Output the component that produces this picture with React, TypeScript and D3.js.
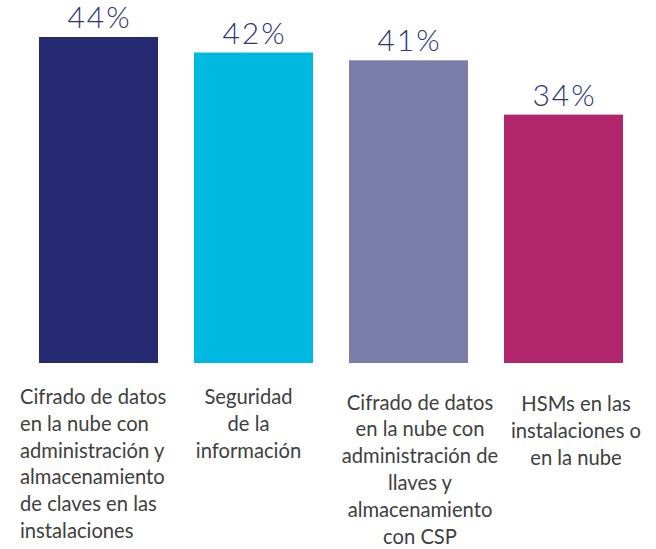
import React from "react";
import * as d3 from "d3";

const categories = [
  "Cifrado de datos en la nube con administración y almacenamiento de claves en las instalaciones",
  "Seguridad de la información",
  "Cifrado de datos en la nube con administración de llaves y almacenamiento con CSP",
  "HSMs en las instalaciones o en la nube",
];
const categoryLines = [
  ["Cifrado de datos", "en la nube con", "administración y", "almacenamiento", "de claves en las", "instalaciones"],
  ["Seguridad", "de la", "información"],
  ["Cifrado de datos", "en la nube con", "administración de", "llaves y", "almacenamiento", "con CSP"],
  ["HSMs en las", "instalaciones o", "en la nube"],
];
const values = [44, 42, 41, 34];
const valueLabels = ["44%", "42%", "41%", "34%"];
const colors = ["#252a72", "#00b9e0", "#7b7ea8", "#b1256d"];

const W = 656;
const H = 549;

export default function App() {
  const x = d3
    .scaleBand<string>()
    .domain(categories)
    .range([21, 641])
    .paddingInner(0.2323)
    .paddingOuter(0.11615);
  const y = d3.scaleLinear().domain([2, 44]).range([363, 37]);

  // label layout: anchor, dx from band center, first baseline
  const labelLayout = [
    { anchor: "start", dx: -78.5, y0: 404 },
    { anchor: "middle", dx: -5, y0: 404 },
    { anchor: "middle", dx: 11.5, y0: 409.5 },
    { anchor: "middle", dx: 12.5, y0: 411 },
  ];
  const lineH = 26.8;

  return (
    <svg
      width={W}
      height={H}
      style={{ position: "absolute", left: 0, top: 0, background: "#fff" }}
    >
      {categories.map((c, i) => {
        const bx = x(c)!;
        const bw = x.bandwidth();
        const cx = bx + bw / 2;
        const L = labelLayout[i];
        return (
          <g key={c}>
            <rect
              x={bx}
              y={y(values[i])}
              width={bw}
              height={y(2) - y(values[i])}
              fill={colors[i]}
            />
            <text
              x={cx + 1}
              y={y(values[i]) - 9}
              textAnchor="middle"
              fontFamily="Lato, 'Open Sans', sans-serif"
              fontWeight={300}
              fontSize={30}
              letterSpacing={2}
              fill="#2e3580"
            >
              {valueLabels[i]}
            </text>
            <text
              fontFamily="Lato, 'Noto Sans', sans-serif"
              fontSize={20.2}
              fill="#404040"
              textAnchor={L.anchor as any}
            >
              {categoryLines[i].map((ln, j) => (
                <tspan key={j} x={cx + L.dx} y={L.y0 + j * lineH}>
                  {ln}
                </tspan>
              ))}
            </text>
          </g>
        );
      })}
    </svg>
  );
}
